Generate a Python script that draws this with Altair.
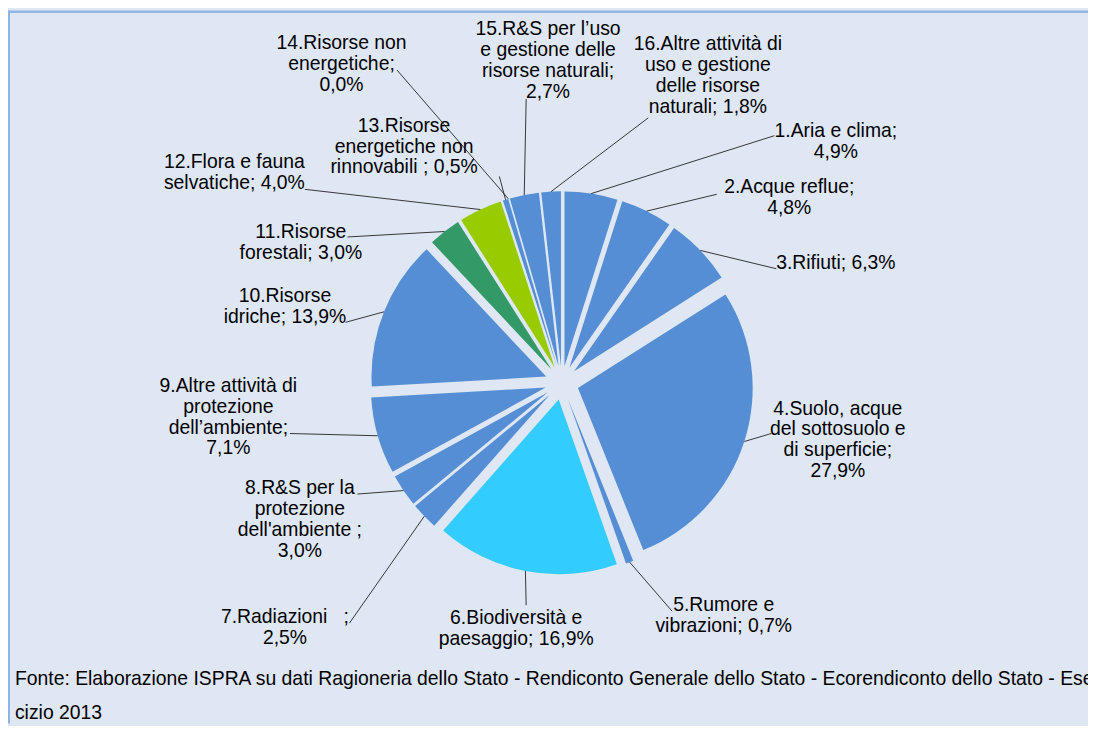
import math
import pandas as pd
import altair as alt

# ---- data ----
values = [4.9, 4.8, 6.3, 27.9, 0.7, 16.9, 2.5, 3.0, 7.1, 13.9, 3.0, 4.0, 0.5, 0.0, 2.7, 1.8]
label_templates = [
    "1.Aria e clima;\n{v}",
    "2.Acque reflue;\n{v}",
    "3.Rifiuti; {v}",
    "4.Suolo, acque\ndel sottosuolo e\ndi superficie;\n{v}",
    "5.Rumore e\nvibrazioni; {v}",
    "6.Biodiversità e\npaesaggio; {v}",
    "7.Radiazioni\u00a0\u00a0\u00a0;\n{v}",
    "8.R&S per la\nprotezione\ndell'ambiente ;\n{v}",
    "9.Altre attività di\nprotezione\ndell’ambiente;\n{v}",
    "10.Risorse\nidriche; {v}",
    "11.Risorse\nforestali; {v}",
    "12.Flora e fauna\nselvatiche; {v}",
    "13.Risorse\nenergetiche non\nrinnovabili ; {v}",
    "14.Risorse non\nenergetiche;\n{v}",
    "15.R&S per l’uso\ne gestione delle\nrisorse naturali;\n{v}",
    "16.Altre attività di\nuso e gestione\ndelle risorse\nnaturali; {v}",
]
slice_colors = ["#558ED5", "#558ED5", "#558ED5", "#558ED5", "#558ED5", "#33CCFF",
                "#558ED5", "#558ED5", "#558ED5", "#558ED5", "#339966", "#99CC00",
                "#558ED5", "#558ED5", "#558ED5", "#558ED5"]
footer_lines = [
    "Fonte: Elaborazione ISPRA su dati Ragioneria dello Stato - Rendiconto Generale dello Stato - Ecorendiconto dello Stato - Eser",
    "cizio 2013",
]

# ---- layout (view pixels) ----
W, H = 1088, 718
CX, CY = 558, 375          # pie centre
R, E = 176, 17             # radius, explosion
FS = 19.5
label_pos = [(834, 127), (787, 184), (834, 260), (836, 407), (721, 605), (512, 618),
             (279, 617), (294, 487), (222, 384), (279, 294), (295, 229), (228, 159),
             (399, 122), (336, 39), (544, 25), (705, 40)]
leader_end = [(772, 126), (714, 185), (774, 260), (769, 426), (669, 605), (522, 599),
              (344, 617), (352, 487), (284, 426), (340, 314), (342, 228), (299, 180),
              (495, 167), (392, 60), (522, 89), (645, 108)]

def fmt(v):
    return f"{v:.1f}%".replace(".", ",")

df = pd.DataFrame({
    "order": list(range(len(values))),
    "v": values,
    "label": [t.format(v=fmt(v)) for t, v in zip(label_templates, values)],
    "col": slice_colors,
    "lx": [p[0] for p in label_pos],
    "ly": [p[1] for p in label_pos],
    "ex": [p[0] for p in leader_end],
    "ey": [p[1] for p in leader_end],
})

xs = alt.Scale(domain=[0, W], range=[0, W], nice=False, zero=False)
ys = alt.Scale(domain=[0, H], range=[0, H], nice=False, zero=False)
ts = alt.Scale(domain=[0, 100], range=[0, 2 * math.pi])

base = alt.Chart(df).transform_window(
    c1="sum(v)", sort=[alt.SortField("order")]
).transform_calculate(
    c0="datum.c1 - datum.v",
    mid="(datum.c1 + datum.c1 - datum.v) * PI / 100",
).transform_calculate(
    cx=f"{CX} + {E} * sin(datum.mid)",
    cy=f"{CY} - {E} * cos(datum.mid)",
    sx=f"{CX} + {R + E} * sin(datum.mid)",
    sy=f"{CY} - {R + E} * cos(datum.mid)",
)

arcs = base.mark_arc(outerRadius=R).encode(
    x=alt.X("cx:Q", scale=xs, axis=None),
    y=alt.Y("cy:Q", scale=ys, axis=None),
    theta=alt.Theta("c0:Q", scale=ts),
    theta2="c1:Q",
    color=alt.Color("col:N", scale=None, legend=None),
)

leaders = base.mark_rule(color="#222222", strokeWidth=0.9).encode(
    x=alt.X("sx:Q", scale=xs, axis=None),
    y=alt.Y("sy:Q", scale=ys, axis=None),
    x2="ex:Q",
    y2="ey:Q",
)

labels = base.mark_text(
    align="center", baseline="alphabetic", lineBreak="\n", lineHeight=21,
    font="Liberation Sans", fontSize=FS, color="#000000",
).encode(
    x=alt.X("lx:Q", scale=xs, axis=None),
    y=alt.Y("ly:Q", scale=ys, axis=None),
    text="label:N",
)

foot_df = pd.DataFrame({"t": footer_lines, "fy": [679, 714]})
footer = alt.Chart(foot_df).mark_text(
    align="left", baseline="alphabetic", font="Liberation Sans", fontSize=FS, color="#000000",
).encode(
    x=alt.value(7),
    y=alt.Y("fy:Q", scale=ys, axis=None),
    text="t:N",
)

frame_top = alt.Chart(foot_df).mark_rule(color="#8DB4E2", strokeWidth=2).encode(
    x=alt.value(0), x2=alt.value(W), y=alt.value(1)
)
frame_left = alt.Chart(foot_df).mark_rule(color="#8DB4E2", strokeWidth=2).encode(
    y=alt.value(0), y2=alt.value(H), x=alt.value(1)
)

chart = alt.layer(arcs, leaders, labels, footer, frame_top, frame_left).properties(
    width=W, height=H, padding=0, autosize=alt.AutoSizeParams(type="none"),
    background="#DEE7F3",
).configure_view(strokeWidth=0)

chart.save("out.html", embed_options={"renderer": "svg", "actions": False})
